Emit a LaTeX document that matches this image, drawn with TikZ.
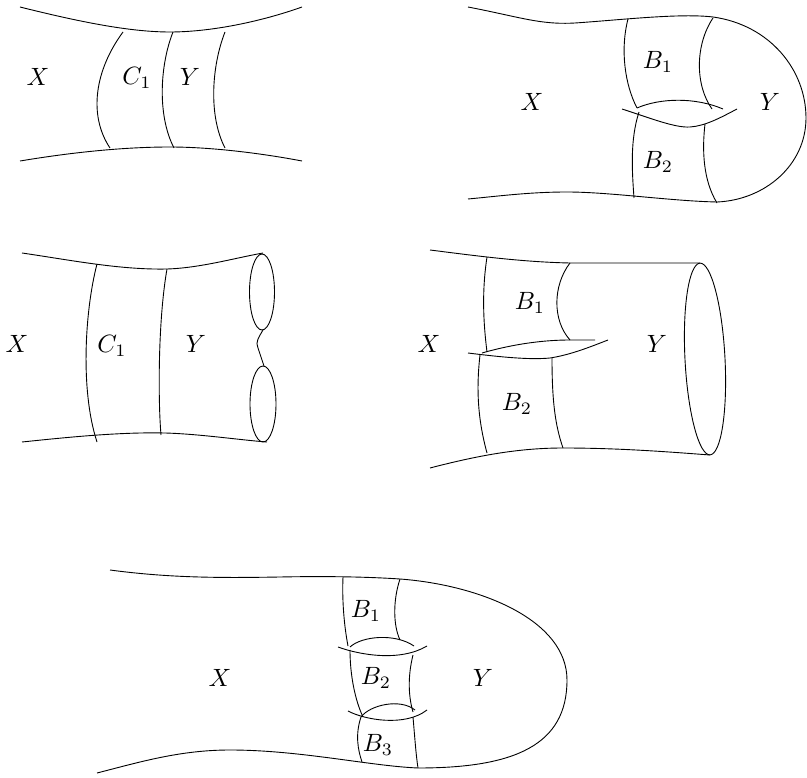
\documentclass[tikz,border=0pt]{standalone}
\begin{document}
\begin{tikzpicture}[x=1pt,y=-1pt,line width=0.9pt,
  lbl/.style={scale=2.5,inner sep=0pt}]
\useasboundingbox (0,0) rectangle (807,778);
% ---------- Panel 1 ----------
\draw (20,7) .. controls (80,22) and (130,32) .. (170,32) .. controls (210,32) and (260,22) .. (302,7);
\draw (20,161) .. controls (80,151) and (130,147) .. (170,147) .. controls (210,147) and (260,153) .. (302,161);
\draw (123,32) .. controls (95,70) and (88,115) .. (110,148);
\draw (173,32) .. controls (160,65) and (157,115) .. (174,148);
\draw (225,32) .. controls (212,65) and (208,115) .. (225,148);
\node[lbl] (p1x) at (38,77) {$X$};
\node[lbl] (p1c) at (137,78) {$C_1$};
\node[lbl] (p1y) at (190,77) {$Y$};
% ---------- Panel 2 ----------
\draw (468,7) .. controls (520,17) and (540,25) .. (575,23) .. controls (620,20) and (680,13) .. (713,17)
      .. controls (770,25) and (806,70) .. (806,118) .. controls (806,165) and (765,200) .. (717,202)
      .. controls (670,201) and (610,192) .. (567,192) .. controls (530,192) and (500,196) .. (468,199);
\draw (628,19) .. controls (620,50) and (625,85) .. (637,108);
\draw (713,18) .. controls (695,45) and (695,85) .. (712,109);
\draw (637,108) .. controls (660,98) and (695,97) .. (723,109);
\draw (622,109) .. controls (650,118) and (675,128) .. (690,127) .. controls (705,126) and (720,118) .. (737,109);
\draw (639,112) .. controls (630,140) and (632,170) .. (634,198);
\draw (705,124) .. controls (702,150) and (703,180) .. (717,203);
\node[lbl] (p2x) at (532,102) {$X$};
\node[lbl] (p2y) at (770,102) {$Y$};
\node[lbl] (p2b1) at (658,62) {$B_1$};
\node[lbl] (p2b2) at (658,162) {$B_2$};
% ---------- Panel 3 ----------
\draw (22,253) .. controls (70,260) and (120,270) .. (167,269) .. controls (200,268) and (235,258) .. (263,253);
\draw (22,442) .. controls (70,437) and (120,432) .. (165,433) .. controls (200,434) and (240,440) .. (267,442);
\draw (97,264) .. controls (85,310) and (80,390) .. (97,442);
\draw (167,269) .. controls (158,320) and (158,400) .. (161,435);
\draw (262,292) ellipse [x radius=12.5pt, y radius=38pt];
\draw (263,404) ellipse [x radius=13pt, y radius=38pt];
\draw (263,330) .. controls (259,337) and (255,342) .. (258,348) .. controls (260,354) and (262,360) .. (264,366);
\node[lbl] (p3x) at (17,344) {$X$};
\node[lbl] (p3c) at (112,346) {$C_1$};
\node[lbl] (p3y) at (196,344) {$Y$};
% ---------- Panel 4 ----------
\draw (430,250) .. controls (470,255) and (520,262) .. (570,263) -- (700,263);
\draw (430,468) .. controls (480,455) and (520,448) .. (563,448) .. controls (620,448) and (670,452) .. (710,455);
\draw[rotate around={3:(705,359)}] (705,359) ellipse [x radius=20pt, y radius=96pt];
\draw (487,257) .. controls (482,290) and (483,320) .. (487,352);
\draw (570,263) .. controls (553,285) and (552,320) .. (570,340);
\draw (482,353) .. controls (510,345) and (540,340) .. (570,340) -- (595,340);
\draw (468,353) .. controls (500,357) and (530,360) .. (550,358) .. controls (570,355) and (590,347) .. (608,340);
\draw (480,355) .. controls (476,390) and (478,420) .. (487,453);
\draw (552,358) .. controls (552,400) and (555,425) .. (563,448);
\node[lbl] (p4x) at (429,344) {$X$};
\node[lbl] (p4y) at (657,344) {$Y$};
\node[lbl] (p4b1) at (530,303) {$B_1$};
\node[lbl] (p4b2) at (517,404) {$B_2$};
% ---------- Panel 5 ----------
\draw (110,570) .. controls (170,578) and (220,578) .. (280,577) .. controls (330,576) and (370,577) .. (400,579)
      .. controls (480,585) and (567,620) .. (567,680) .. controls (567,745) and (515,768) .. (418,768)
      .. controls (370,766) and (300,750) .. (230,750) .. controls (180,750) and (140,762) .. (97,773);
\draw (343,577) .. controls (342,600) and (344,625) .. (348,646);
\draw (400,579) .. controls (393,600) and (393,625) .. (400,640);
\draw (350,647) .. controls (362,636) and (395,633) .. (414,646);
\draw (338,647) .. controls (360,655) and (400,662) .. (427,646);
\draw (350,650) .. controls (350,675) and (355,700) .. (363,717);
\draw (413,655) .. controls (408,675) and (408,695) .. (413,712);
\draw (361,717) .. controls (370,705) and (400,698) .. (415,710);
\draw (348,711) .. controls (365,720) and (405,727) .. (427,710);
\draw (361,717) .. controls (355,735) and (358,750) .. (362,762);
\draw (413,717) .. controls (415,740) and (416,755) .. (418,768);
\node[lbl] (p5x) at (220,678) {$X$};
\node[lbl] (p5y) at (483,678) {$Y$};
\node[lbl] (p5b1) at (366,611) {$B_1$};
\node[lbl] (p5b2) at (376,678) {$B_2$};
\node[lbl] (p5b3) at (378,745) {$B_3$};
\end{tikzpicture}
\end{document}
